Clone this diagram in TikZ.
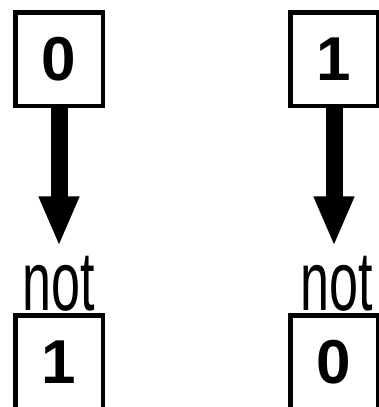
\documentclass[tikz,border=0pt]{standalone}
\usepackage{fontspec}
\setmainfont{Liberation Sans}
\usetikzlibrary{arrows.meta, positioning}

\begin{document}
\begin{tikzpicture}[x=1pt, y=1pt, >={Triangle[width=37pt, length=50pt]}]
	\tikzstyle{cell} = [draw, line width=4.5pt, minimum width=87.5pt, minimum height=93.5pt, inner sep=0pt, font=\fontsize{62}{62}\selectfont\bfseries]
	\tikzstyle{neg} = [inner sep=0pt, font=\fontsize{84}{84}\selectfont]
	\tikzstyle{flow} = [->, line width=17pt, shorten >=10pt]

	\useasboundingbox (0,0) rectangle (378,-407);

	\begin{scope}
		\path
			node[cell] (in) at (59,-59) {0}
			node[cell] (out) at (59,-362) {1}
			node[neg, above=1pt of out] (not) {\scalebox{0.62}[1]{not}}
		;
		\draw[flow] (in) -- (not);
	\end{scope}

	\begin{scope}[xshift=275pt]
		\path
			node[cell] (in) at (59,-59) {1}
			node[cell] (out) at (59,-362) {0}
			node[neg, above=1pt of out, xshift=3pt] (not) {\scalebox{0.62}[1]{not}}
		;
		\draw[flow] (in) -- (in |- not.north);
	\end{scope}
\end{tikzpicture}
\end{document}
